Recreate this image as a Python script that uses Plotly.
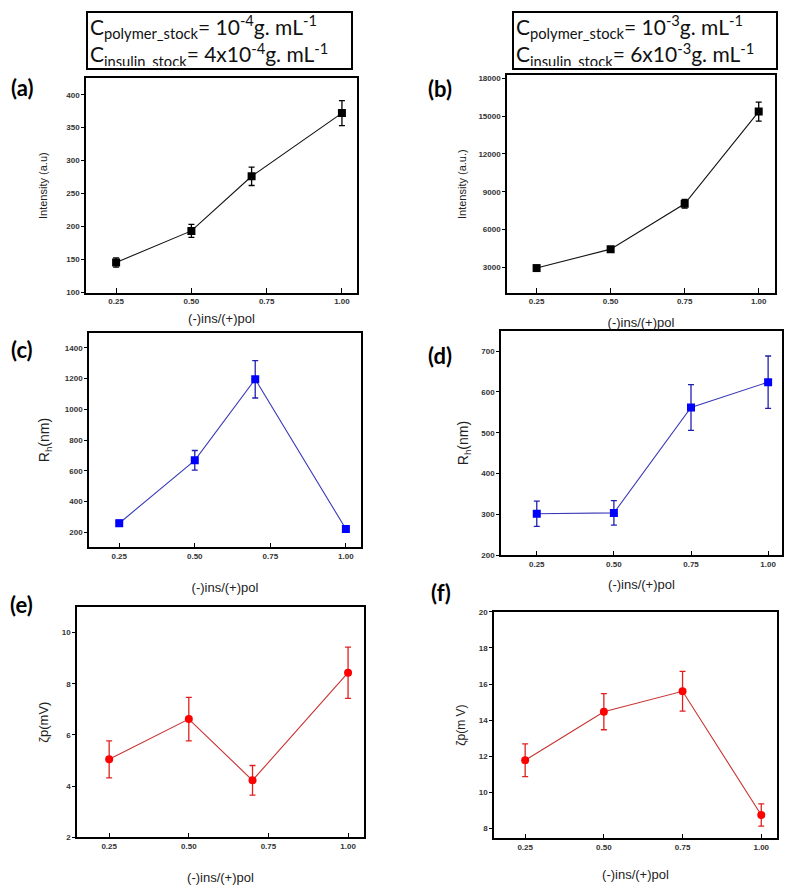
import plotly.graph_objects as go

# ---------------- data ----------------
x_left = [0.25, 0.50, 0.70, 1.00]     # panels (a), (c), (e)
x_right = [0.25, 0.50, 0.75, 1.00]    # panels (b), (d), (f)

intensity_a = [145, 193, 276, 372]
intensity_a_err = [7, 10, 14, 19]
intensity_b = [2950, 4450, 8050, 15350]
intensity_b_err = [150, 150, 350, 750]

rh_c = [258, 668, 1196, 220]
rh_c_err = [20, 64, 122, 12]
rh_d = [302, 304, 562, 624]
rh_d_err = [31, 30, 56, 64]

zeta_e = [5.05, 6.62, 4.23, 8.43]
zeta_e_err = [0.72, 0.85, 0.58, 1.0]
zeta_f = [11.78, 14.47, 15.6, 8.75]
zeta_f_err = [0.91, 1.0, 1.1, 0.62]

x_tickvals = [0.25, 0.50, 0.75, 1.00]
x_ticktext = ["0.25", "0.50", "0.75", "1.00"]
x_title = "(-)ins/(+)pol"

W, H = 792, 891

def dx(px):
    return px / W

def dy(py):
    return 1 - py / H

panels = [
    dict(x=x_left, y=intensity_a, e=intensity_a_err, xr=[0.15, 1.05], yr=[98.5, 425],
         yt=list(range(100, 401, 50)), box=[86, 357, 75, 292], yti="Intensity (a.u)", ys=11,
         lc="#111111", ec="#000000", mc="#000000", sym="square", ysd=16, xsd=8),
    dict(x=x_right, y=intensity_b, e=intensity_b_err, xr=[0.15, 1.055], yr=[970, 18230],
         yt=list(range(3000, 18001, 3000)), box=[507, 775, 72, 292], yti="Intensity (a.u.)", ys=11,
         lc="#111111", ec="#000000", mc="#000000", sym="square", ysd=10, xsd=12),
    dict(x=x_left, y=rh_c, e=rh_c_err, xr=[0.15, 1.05], yr=[100, 1500],
         yt=list(range(200, 1401, 200)), box=[89, 361, 332, 549], yti="R<sub>h</sub>(nm)", ys=14,
         lc="#3a3ab8", ec="#2020b0", mc="#0000ff", sym="square", ysd=12, xsd=23),
    dict(x=x_right, y=rh_d, e=rh_d_err, xr=[0.134, 1.045], yr=[200, 750],
         yt=list(range(200, 701, 100)), box=[501, 782, 330, 557], yti="R<sub>h</sub>(nm)", ys=14,
         lc="#3a3ab8", ec="#2020b0", mc="#0000ff", sym="square", ysd=9, xsd=12),
    dict(x=x_left, y=zeta_e, e=zeta_e_err, xr=[0.149, 1.05], yr=[2, 11],
         yt=list(range(2, 11, 2)), box=[77, 364, 609, 842], yti="ζp(mV)", ys=13,
         lc="#c83232", ec="#e02020", mc="#ff0000", sym="circle", ysd=10, xsd=23),
    dict(x=x_right, y=zeta_f, e=zeta_f_err, xr=[0.151, 1.05], yr=[7.45, 20],
         yt=list(range(8, 21, 2)), box=[494, 777, 614, 843], yti="ζp(m V)", ys=12,
         lc="#c83232", ec="#e02020", mc="#ff0000", sym="circle", ysd=11, xsd=19),
]

fig = go.Figure()
layout = dict(
    width=W, height=H, margin=dict(l=0, r=0, t=0, b=0),
    paper_bgcolor="white", plot_bgcolor="white", showlegend=False,
    font=dict(family="Arial, Liberation Sans, sans-serif", size=12, color="#222222"),
)

tick_font = dict(family="Arial, Liberation Sans, sans-serif", size=8, color="#333333", weight="bold")

for i, p in enumerate(panels):
    n = "" if i == 0 else str(i + 1)
    x0, x1, y0, y1 = p["box"]
    fig.add_trace(go.Scatter(
        x=p["x"], y=p["y"], mode="lines+markers",
        xaxis="x" + n, yaxis="y" + n,
        line=dict(color=p["lc"], width=1.1),
        marker=dict(symbol=p["sym"], size=8, color=p["mc"]),
        error_y=dict(type="data", array=p["e"], visible=True, color=p["ec"], thickness=1.3, width=3),
    ))
    layout["xaxis" + n] = dict(
        domain=[dx(x0), dx(x1)], range=p["xr"], anchor="y" + n,
        tickvals=x_tickvals, ticktext=x_ticktext, ticks="inside", ticklen=5, tickcolor="black",
        showline=True, linecolor="black", linewidth=1.5, mirror=True,
        showgrid=False, zeroline=False, tickfont=tick_font,
        title=dict(text=x_title, font=dict(size=13, color="#222222"), standoff=p["xsd"]),
    )
    layout["yaxis" + n] = dict(
        domain=[dy(y1), dy(y0)], range=p["yr"], anchor="x" + n,
        tickvals=p["yt"], ticktext=[str(v) for v in p["yt"]],
        ticks="outside", ticklen=3, tickcolor="black",
        showline=True, linecolor="black", linewidth=1.5, mirror=True,
        showgrid=False, zeroline=False, tickfont=tick_font,
        title=dict(text=p["yti"], font=dict(size=p["ys"], color="#222222"), standoff=p["ysd"]),
    )

fig.update_layout(**layout)

# panel letters
letters = [("(a)", 22, 84), ("(b)", 440, 85), ("(c)", 22, 349),
           ("(d)", 440, 355), ("(e)", 21, 607), ("(f)", 441, 594)]
for t, px, py in letters:
    fig.add_annotation(text="<b>" + t + "</b>", x=dx(px), y=dy(py), xref="paper", yref="paper",
                       showarrow=False, xanchor="center", yanchor="middle",
                       font=dict(family="Lato, Noto Sans, sans-serif", size=22, color="black"))

# concentration boxes
box_texts = [
    ("C<sub>polymer_stock</sub>= 10<sup>-4</sup>g. mL<sup>-1</sup><br>"
     "C<sub>insulin_stock</sub>= 4x10<sup>-4</sup>g. mL<sup>-1</sup>", 86, 353),
    ("C<sub>polymer_stock</sub>= 10<sup>-3</sup>g. mL<sup>-1</sup><br>"
     "C<sub>insulin_stock</sub>= 6x10<sup>-3</sup>g. mL<sup>-1</sup>", 512, 778),
]
for t, bx0, bx1 in box_texts:
    fig.add_annotation(text=t, x=dx(bx0), y=dy(7), xref="paper", yref="paper",
                       showarrow=False, xanchor="left", yanchor="top", align="left",
                       width=bx1 - bx0 - 8, height=51, borderpad=2,
                       bordercolor="black", borderwidth=2, bgcolor="white",
                       font=dict(family="Lato, Noto Sans, sans-serif", size=21, color="#111111"))

fig.write_html("out.html", config={"displayModeBar": False},
               post_script="document.body.style.margin='0';")
